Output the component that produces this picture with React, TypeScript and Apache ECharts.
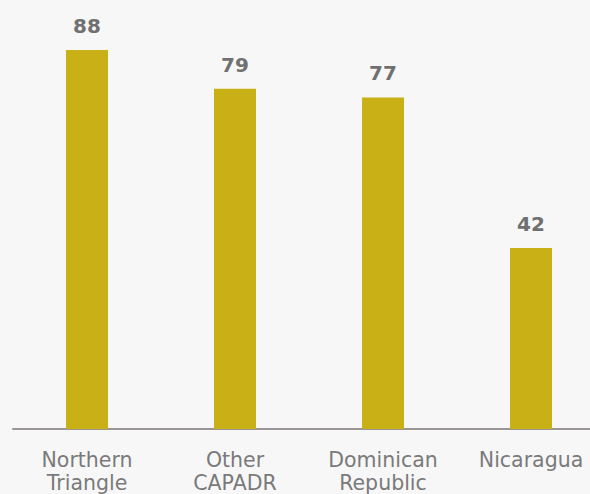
import React, { useEffect, useRef } from "react";
import * as echarts from "echarts";

const categories = ["Northern\nTriangle", "Other\nCAPADR", "Dominican\nRepublic", "Nicaragua"];
const values = [88, 79, 77, 42];

export default function App() {
  const ref = useRef<HTMLDivElement>(null);
  useEffect(() => {
    const chart = echarts.init(ref.current!, null, { renderer: "svg" });
    chart.setOption({
      animation: false,
      backgroundColor: "#f7f7f7",
      grid: { left: 13, right: 0, top: 50, bottom: 63 },
      xAxis: {
        type: "category",
        data: categories,
        axisLine: { lineStyle: { color: "#9a9696", width: 2 } },
        axisTick: { show: false },
        axisLabel: {
          color: "#7a7a7a",
          fontFamily: "DejaVu Sans",
          fontSize: 20.5,
          lineHeight: 23,
          margin: 19,
          interval: 0,
        },
      },
      yAxis: { type: "value", min: 0, max: 88, show: false, splitLine: { show: false } },
      series: [
        {
          type: "bar",
          data: values,
          barWidth: 42,
          itemStyle: { color: "#c8b016" },
          label: {
            show: true,
            position: "top",
            distance: 14,
            color: "#707070",
            fontFamily: "DejaVu Sans",
            fontWeight: "bold",
            fontSize: 20,
          },
        },
      ],
    });
    return () => chart.dispose();
  }, []);
  return (
    <div style={{ position: "absolute", left: 0, top: 0, width: 590, height: 494, overflow: "hidden" }}>
      <div ref={ref} style={{ width: 605, height: 494 }} />
    </div>
  );
}
